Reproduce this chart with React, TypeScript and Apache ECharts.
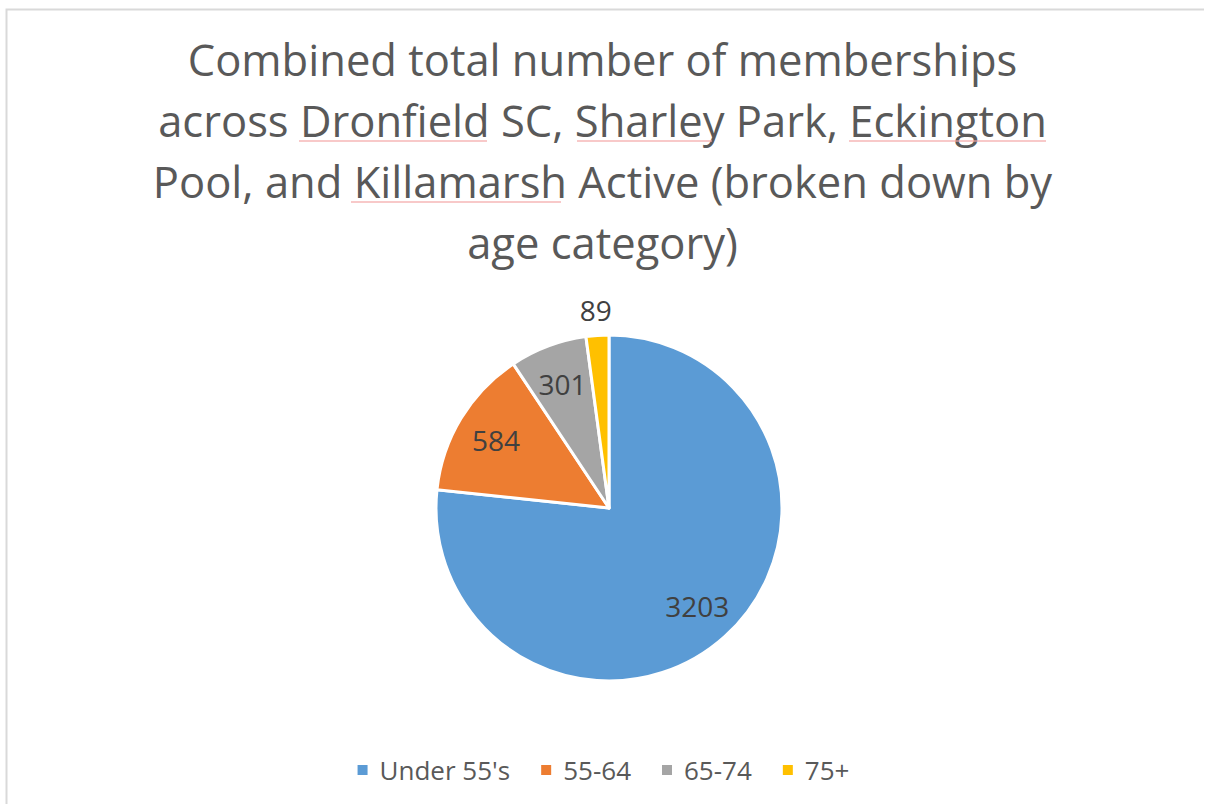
import React, { useEffect, useRef } from "react";
import * as echarts from "echarts";

const categories = ["Under 55's", "55-64", "65-74", "75+"];
const values = [3203, 584, 301, 89];
const colors = ["#5B9BD5", "#ED7D31", "#A5A5A5", "#FFC000"];
const titleText =
  "Combined total number of memberships\nacross Dronfield SC, Sharley Park, Eckington\nPool, and Killamarsh Active (broken down by\nage category)";

const FONT = "'Open Sans', 'Noto Sans', sans-serif";

// spell-check style underlines under proper nouns in the title
const squiggles: [number, number, number][] = [
  [299, 487, 141],
  [577, 712, 141],
  [849, 1046, 141],
  [351, 561, 202],
];

export default function App() {
  const ref = useRef<HTMLDivElement>(null);
  useEffect(() => {
    if (!ref.current) return;
    const chart = echarts.init(ref.current, undefined, { renderer: "svg" });
    const data = categories.map((name, i) => ({
      name,
      value: values[i],
      itemStyle: { color: colors[i] },
    }));
    const labelData = (show: (i: number) => boolean) =>
      categories.map((name, i) => ({
        name,
        value: values[i],
        itemStyle: { color: "rgba(0,0,0,0)" },
        label: { show: show(i) },
      }));
    const labelStyle = {
      position: "inside",
      formatter: "{c}",
      fontFamily: FONT,
      fontSize: 28,
      color: "#404040",
    };
    chart.setOption({
      animation: false,
      backgroundColor: "#ffffff",
      title: {
        text: titleText,
        left: "center",
        top: 24,
        textStyle: {
          fontFamily: FONT,
          fontSize: 43.5,
          fontWeight: "normal",
          color: "#595959",
          lineHeight: 61,
          align: "center",
        },
      },
      legend: {
        data: categories.map((name, i) => ({ name, itemStyle: { color: colors[i] } })),
        bottom: 16,
        left: "center",
        icon: "rect",
        itemWidth: 12,
        itemHeight: 12,
        itemGap: 29,
        textStyle: { fontFamily: FONT, fontSize: 26, color: "#595959", padding: [0, 0, 0, 6] },
      },
      graphic: [
        {
          type: "polyline",
          shape: { points: [[6.5, 804], [6.5, 9.5], [1204, 9.5]] },
          style: { stroke: "#d9d9d9", lineWidth: 2, fill: "none" },
          silent: true,
        },
        ...squiggles.map(([x1, x2, y]) => ({
          type: "line",
          shape: { x1, y1: y, x2, y2: y },
          style: { stroke: "#f4a6a6", lineWidth: 1.5, opacity: 0.8 },
          silent: true,
          z: 10,
        })),
      ],
      series: [
        {
          type: "pie",
          center: [609, 508],
          radius: [0, 173],
          startAngle: 90,
          clockwise: true,
          data,
          label: { show: false },
          labelLine: { show: false },
          itemStyle: { borderColor: "#ffffff", borderWidth: 3 },
          emphasis: { disabled: true },
        },
        {
          type: "pie",
          center: [609, 508],
          radius: [0, 258],
          startAngle: 90,
          clockwise: true,
          silent: true,
          data: labelData((i) => i < 3),
          label: labelStyle,
          labelLine: { show: false },
          emphasis: { disabled: true },
        },
        {
          type: "pie",
          center: [609, 508],
          radius: [0, 390],
          startAngle: 90,
          clockwise: true,
          silent: true,
          data: labelData((i) => i === 3),
          label: labelStyle,
          labelLine: { show: false },
          emphasis: { disabled: true },
        },
      ],
    });
    return () => chart.dispose();
  }, []);
  return (
    <div
      ref={ref}
      style={{ position: "fixed", left: 0, top: 0, width: 1205, height: 804 }}
    />
  );
}
